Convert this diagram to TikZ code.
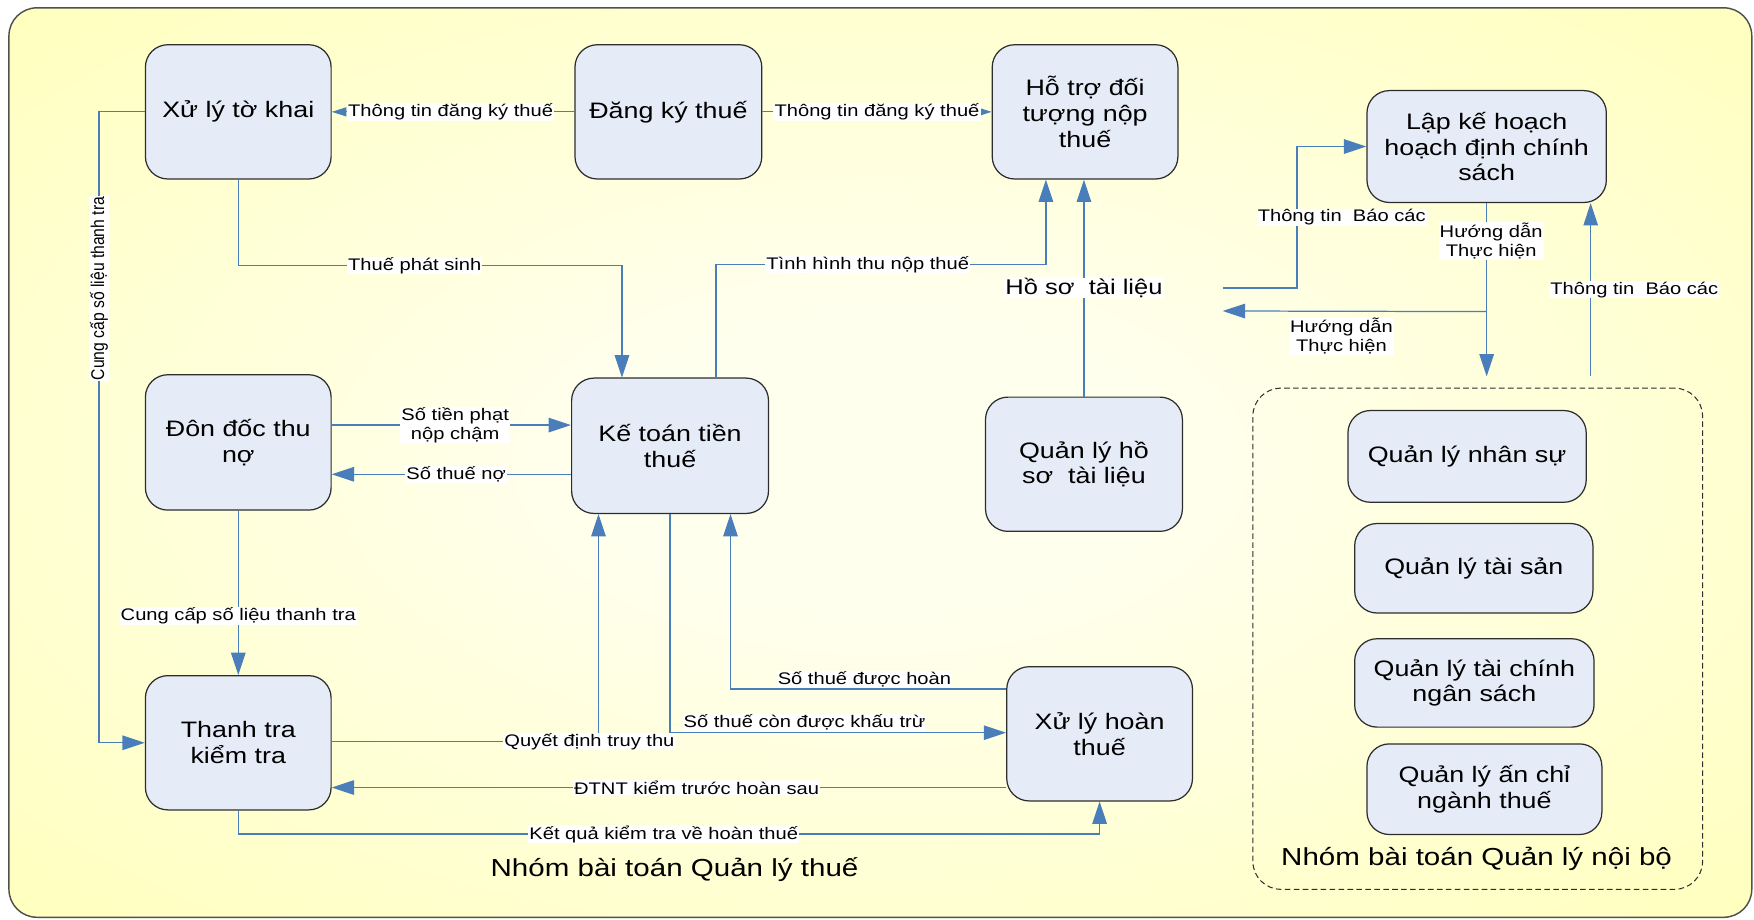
\documentclass[tikz,border=0pt]{standalone}
\usepackage{fontspec}
\setmainfont{Liberation Sans}[FakeStretch=1.2]
\newfontfamily\rotsans{Liberation Sans}[FakeStretch=0.85]
\usetikzlibrary{arrows.meta,calc}

\definecolor{boxfill}{RGB}{230,236,247}
\definecolor{boxline}{RGB}{45,45,45}
\definecolor{flowblue}{RGB}{74,126,187}
\definecolor{bgin}{RGB}{255,255,238}
\definecolor{bgout}{RGB}{255,255,168}
\definecolor{framegray}{RGB}{80,80,80}

% soft glow in the middle of the yellow panel
\pgfdeclareradialshading{bgglow}{\pgfpoint{0bp}{0bp}}{color(0bp)=(bgin); color(8bp)=(bgin); color(48bp)=(bgout); color(75bp)=(bgout)}

\begin{document}
\begin{tikzpicture}[x=1pt,y=-1pt,
  proc/.style={draw=boxline, line width=1.1pt, fill=boxfill, rounded corners=20pt,
    align=center, inner sep=2pt, text=black, font=\fontsize{20}{23}\selectfont},
  flow/.style={draw=flowblue, line width=1.1pt, -{Triangle[length=20pt,width=13pt]}},
  smalltip/.style={-{Triangle[length=13pt,width=8pt]}},
  lbl/.style={fill=white, inner xsep=1pt, inner ysep=0.5pt, align=center, text=black,
    font=\fontsize{15}{17}\selectfont},
  vlbl/.style={lbl, rotate=90, font=\rotsans\fontsize{16.5}{18}\selectfont},
  grouptitle/.style={text=black, font=\fontsize{22}{26}\selectfont}
]
\useasboundingbox (0,0) rectangle (1568,822);

% panel
\shadedraw[shading=bgglow, draw=framegray, line width=1.3pt, rounded corners=25pt]
  (8,7) rectangle (1566,820);

% internal management group
\node[draw=boxline, line width=0.9pt, dash pattern=on 5pt off 3pt, rounded corners=25pt,
  minimum width=402pt, minimum height=448pt] (grp) at (1321,571) {};

% processes
\node[proc, minimum width=166pt, minimum height=120pt] (xlk) at (213,100) {Xử lý tờ khai};
\node[proc, minimum width=167pt, minimum height=120pt] (dkt) at (597.5,100) {Đăng ký thuế};
\node[proc, minimum width=166pt, minimum height=120pt] (htr) at (970,100) {Hỗ trợ đối\\tượng nộp\\thuế};
\node[proc, minimum width=214pt, minimum height=100pt] (lkh) at (1329,131) {Lập kế hoạch\\hoạch định chính\\sách};
\node[proc, minimum width=166pt, minimum height=121pt] (ddt) at (213,395.5) {Đôn đốc thu\\nợ};
\node[proc, minimum width=176pt, minimum height=121pt] (ktt) at (599,398.5) {Kế toán tiền\\thuế};
\node[proc, minimum width=176pt, minimum height=120pt] (qlh) at (969,415) {Quản lý hồ\\sơ~~tài liệu};
\node[proc, minimum width=166pt, minimum height=120pt] (ttk) at (213,664) {Thanh tra\\kiểm tra};
\node[proc, minimum width=166pt, minimum height=120pt] (xlh) at (983,656) {Xử lý hoàn\\thuế};
\node[proc, minimum width=213pt, minimum height=82pt] (qns) at (1311.5,408) {Quản lý nhân sự};
\node[proc, minimum width=213pt, minimum height=80pt] (qts) at (1317.5,508) {Quản lý tài sản};
\node[proc, minimum width=214pt, minimum height=79pt] (qtc) at (1318,610.5) {Quản lý tài chính\\ngân sách};
\node[proc, minimum width=210pt, minimum height=81pt] (qac) at (1327,705.5) {Quản lý ấn chỉ\\ngành thuế};

\node[grouptitle] (tq) at (603,777) {Nhóm bài toán Quản lý thuế};
\node[grouptitle] (tn) at (1320,768) {Nhóm bài toán Quản lý nội bộ};

% free ends on the tax-management side
\coordinate (gIn) at (1093,257.5);
\coordinate (gOut) at (1093,278);

% registration flows
\draw[flow, smalltip] (dkt.west) -- node[lbl, pos=0.51] {Thông tin đăng ký thuế} (xlk.east);
\draw[flow, smalltip] (dkt.east) -- node[lbl, pos=0.5] {Thông tin đăng ký thuế} (htr.west);

% declarations
\draw[flow] (xlk.west) -- ++(-41,0) |- node[vlbl, pos=0.14] {Cung cấp số liệu thanh tra} (ttk.west);
\draw[flow] (xlk.south) -- ++(0,77) -| node[lbl, pos=0.23] {Thuế phát sinh} ($(ktt.north)+(-43,0)$);
\draw[flow] ($(ktt.north)+(41,0)$) -- ++(0,-101) -| node[lbl, pos=0.23] {Tình hình thu nộp thuế} ($(htr.south)+(-35,0)$);
\draw[flow] (qlh.north) -- node[lbl, pos=0.5, font=\fontsize{19}{22}\selectfont] (hst) {Hồ sơ~~tài liệu} (qlh.north |- htr.south);

% planning
\draw[flow] (gIn) -| ($(lkh.west)+(-62,0)$) node[lbl, pos=0.75, xshift=40pt] {Thông tin~~Báo các} -- (lkh.west);
\draw[flow] (lkh.south) -- node[lbl, pos=0.218, xshift=4pt] {Hướng dẫn\\Thực hiện} ($(lkh.south |- grp.north)+(0,-10)$);
\draw[flow] ($(lkh.south)+(0,97)$) -- node[lbl, pos=0.55, below=5pt] {Hướng dẫn\\Thực hiện} (gOut);
\draw[flow] ($(grp.north)+(101,-10)$) -- node[lbl, pos=0.5, xshift=39pt] {Thông tin~~Báo các} ($(lkh.south)+(93,0)$);

% debt collection
\draw[flow] ($(ddt.east)+(0,-15.5)$) -- node[lbl, pos=0.516] {Số tiền phạt\\nộp chậm} ($(ktt.west)+(0,-18.5)$);
\draw[flow] ($(ktt.west)+(0,25.5)$) -- node[lbl, pos=0.48] {Số thuế nợ} ($(ddt.east)+(0,28.5)$);
\draw[flow] (ddt.south) -- node[lbl, pos=0.64] {Cung cấp số liệu thanh tra} (ttk.north);

% refunds
\draw[flow] ($(xlh.west)+(0,-40)$) -| node[lbl, pos=0.257, above=1pt] {Số thuế được hoàn} ($(ktt.south)+(54,0)$);
\draw[flow] (ktt.south) |- node[lbl, pos=0.70, above=1pt] {Số thuế còn được khấu trừ} ($(xlh.west)+(0,-1)$);
\draw[flow] ($(ttk.east)+(0,-1)$) -| node[lbl, pos=0.483] {Quyết định truy thu} ($(ktt.south)+(-64,0)$);
\draw[flow] ($(xlh.west)+(0,48)$) -- node[lbl, pos=0.459] {ĐTNT kiểm trước hoàn sau} ($(ttk.east)+(0,40)$);
\draw[flow] (ttk.south) -- ++(0,21) -| node[lbl, pos=0.247] {Kết quả kiểm tra về hoàn thuế} (xlh.south);
\end{tikzpicture}
\end{document}
